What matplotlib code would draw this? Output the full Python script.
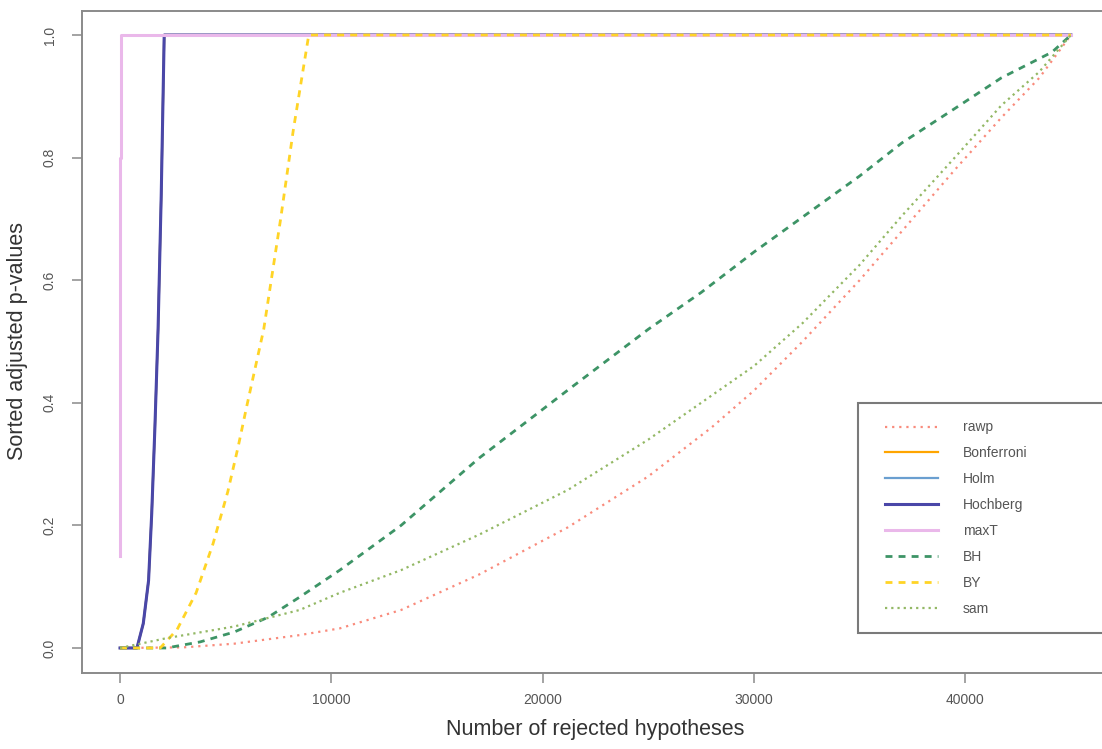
import numpy as np
import matplotlib
matplotlib.use("Agg")
import matplotlib.pyplot as plt
from matplotlib.legend_handler import HandlerLine2D

plt.rcParams['font.family'] = ['Liberation Sans', 'DejaVu Sans']

n_hyp = 45000

# sorted adjusted p-values
rawp_x = [0, 3000, 5400, 8500, 10400, 13300, 17000, 21200, 25000, 28000, 30000,
          32300, 35000, 37000, 39500, 41700, 43500, 45000]
rawp_y = [0, 0.001, 0.007, 0.021, 0.032, 0.062, 0.12, 0.197, 0.28, 0.36, 0.42,
          0.50, 0.60, 0.68, 0.78, 0.865, 0.93, 1.0]

fwer_x = [0, 800, 1100, 1350, 1500, 1650, 1800, 1950, 2090, 45000]
fwer_y = [0, 0, 0.04, 0.11, 0.22, 0.36, 0.52, 0.74, 1.0, 1.0]

maxt_x = [0, 0, 60, 60, 45000]
maxt_y = [0.15, 0.8, 0.8, 1.0, 1.0]

bh_x = [0, 2200, 3800, 5400, 7000, 8500, 10400, 13300, 17000, 21200, 25000, 27500,
        30000, 32300, 35000, 37000, 39500, 41700, 44100, 45000]
bh_y = [0, 0.0, 0.01, 0.026, 0.05, 0.083, 0.127, 0.20, 0.31, 0.421, 0.52, 0.58,
        0.646, 0.703, 0.77, 0.824, 0.88, 0.93, 0.972, 1.0]

by_x = [0, 1900, 2700, 3600, 4400, 5100, 5600, 6000, 6800, 7600, 8200, 8930, 45000]
by_y = [0, 0, 0.03, 0.09, 0.17, 0.255, 0.33, 0.395, 0.52, 0.70, 0.845, 1.0, 1.0]

sam_x = [0, 2200, 5400, 8500, 10400, 13300, 17000, 21200, 25000, 27500, 30000,
         32300, 35000, 37000, 39500, 41700, 43500, 45000]
sam_y = [0, 0.016, 0.035, 0.062, 0.09, 0.127, 0.185, 0.258, 0.34, 0.40, 0.46,
         0.53, 0.625, 0.705, 0.80, 0.885, 0.94, 1.0]

x_ticks = [0, 10000, 20000, 30000, 40000]
y_ticks = [0.0, 0.2, 0.4, 0.6, 0.8, 1.0]


class IndentedLine(HandlerLine2D):
    # legend sample starts a little further in from the box edge, like R's legend()
    def create_artists(self, legend, orig_handle, xdescent, ydescent,
                       width, height, fontsize, trans):
        off = 7.0
        return super().create_artists(legend, orig_handle, xdescent - off, ydescent,
                                       width - off, height, fontsize, trans)


fig = plt.figure(figsize=(11.02, 7.49), dpi=100)
ax = fig.add_axes([82/1102, 1 - 672.5/749, (1109 - 82)/1102, (672.5 - 10.5)/749])

ax.plot(rawp_x, rawp_y, color="#f98b7c", lw=1.6, dashes=(1, 2.2), label="rawp")
ax.plot(fwer_x, fwer_y, color="#ffa500", lw=1.6, label="Bonferroni")
ax.plot(fwer_x, fwer_y, color="#6a9fd0", lw=1.6, label="Holm")
ax.plot(fwer_x, fwer_y, color="#4a47a8", lw=2.2, label="Hochberg")
ax.plot(maxt_x, maxt_y, color="#eab8ea", lw=2.2, label="maxT")
ax.plot(bh_x, bh_y, color="#3d9466", lw=2.0, dashes=(2.5, 2.2), label="BH")
ax.plot(by_x, by_y, color="#ffd426", lw=2.0, dashes=(2.5, 2.2), label="BY")
ax.plot(sam_x, sam_y, color="#93b865", lw=1.6, dashes=(1, 1.8), label="sam")

ax.set_xlim(-0.04 * n_hyp, 1.04 * n_hyp)
ax.set_ylim(-0.04, 1.04)

ax.set_xticks(x_ticks)
ax.set_xticklabels([str(t) for t in x_ticks])
ax.set_yticks(y_ticks)
ax.set_yticklabels(["%.1f" % t for t in y_ticks], rotation=90, va="center")

for s in ax.spines.values():
    s.set_color("#8a8a8a")
    s.set_linewidth(1.4)
ax.tick_params(direction="out", length=7, width=1.1, color="#8a8a8a",
               labelcolor="#555555", labelsize=10)
ax.tick_params(axis="x", pad=8)
ax.tick_params(axis="y", pad=11)

ax.set_xlabel("Number of rejected hypotheses", fontsize=15.5, color="#333333", va="center")
ax.xaxis.set_label_coords(0.5, -(730 - 672.5)/662)
ax.set_ylabel("Sorted adjusted p-values", fontsize=15.5, color="#333333", va="center")
ax.yaxis.set_label_coords((18 - 82)/1027, 0.5)

leg = ax.legend(loc="upper left", bbox_to_anchor=(858/1102, 0.0, 0.26, 1 - 403/749),
                bbox_transform=fig.transFigure, mode="expand", borderaxespad=0,
                fontsize=10, handlelength=4.5, handletextpad=1.8, borderpad=1.25,
                labelspacing=0.86, fancybox=False, framealpha=1,
                handler_map={matplotlib.lines.Line2D: IndentedLine()})
leg.get_frame().set_edgecolor("#7a7a7a")
leg.get_frame().set_linewidth(1.5)
for t in leg.get_texts():
    t.set_color("#555555")

fig.savefig("out.png", dpi=100)
